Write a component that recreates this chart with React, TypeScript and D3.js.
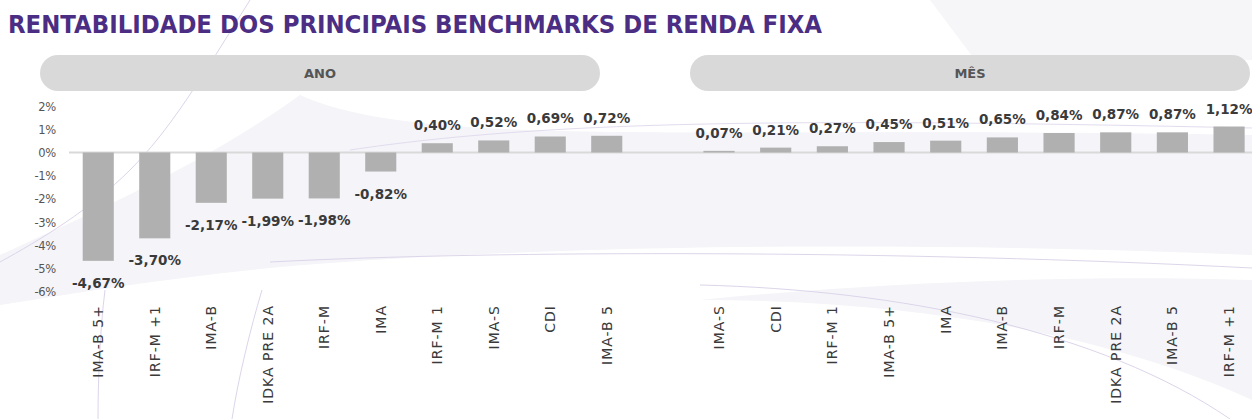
import React from "react";
import * as d3 from "d3";

const title = "RENTABILIDADE DOS PRINCIPAIS BENCHMARKS DE RENDA FIXA";
const leftTitle = "ANO";
const rightTitle = "MÊS";

const leftCats = ["IMA-B 5+", "IRF-M +1", "IMA-B", "IDKA PRE 2A", "IRF-M", "IMA", "IRF-M 1", "IMA-S", "CDI", "IMA-B 5"];
const leftVals = [-4.67, -3.7, -2.17, -1.99, -1.98, -0.82, 0.4, 0.52, 0.69, 0.72];

const rightCats = ["IMA-S", "CDI", "IRF-M 1", "IMA-B 5+", "IMA", "IMA-B", "IRF-M", "IDKA PRE 2A", "IMA-B 5", "IRF-M +1"];
const rightVals = [0.07, 0.21, 0.27, 0.45, 0.51, 0.65, 0.84, 0.87, 0.87, 1.12];

const yTicks = [2, 1, 0, -1, -2, -3, -4, -5, -6];

const W = 1252;
const H = 419;

const locale = d3.formatLocale({ decimal: ",", thousands: ".", grouping: [3], currency: ["R$", ""], minus: "-" });
const fmt = (v: number) => locale.format(".2f")(v) + "%";

const y = d3.scaleLinear().domain([-6, 2]).range([291.7, 106.1]);

const xLeft = d3.scaleBand<string>().domain(leftCats).range([70, 635]).paddingInner(0.45).paddingOuter(0.225);
const xRight = d3.scaleBand<string>().domain(rightCats).range([690.7, 1257.4]).paddingInner(0.45).paddingOuter(0.225);

const labelFont = "'DejaVu Sans', sans-serif";

function Panel({ cats, vals, x }: { cats: string[]; vals: number[]; x: d3.ScaleBand<string> }) {
  const bw = x.bandwidth();
  return (
    <g>
      {cats.map((c, i) => {
        const v = vals[i];
        const y0 = y(0);
        const y1 = y(v);
        const top = Math.min(y0, y1);
        const h = Math.abs(y1 - y0);
        const cx = (x(c) as number) + bw / 2;
        const ly = v < 0 ? y1 + 27 : y1 - 13;
        return (
          <g key={c}>
            <rect x={x(c)} y={top} width={bw} height={h} fill="#b0b0b0" />
            <text x={cx} y={ly} textAnchor="middle" fontFamily={labelFont} fontWeight="bold" fontSize={13.5} fill="#3a3a3a">
              {fmt(v)}
            </text>
            <text
              transform={`translate(${cx + 5},305) rotate(-90)`}
              textAnchor="end"
              fontFamily={labelFont}
              fontSize={14}
              letterSpacing={1}
              fill="#3a3a3a"
            >
              {c}
            </text>
          </g>
        );
      })}
    </g>
  );
}

export default function App() {
  return (
    <svg width={W} height={H} style={{ position: "absolute", left: 0, top: 0, display: "block" }}>
      <rect x={0} y={0} width={W} height={H} fill="#ffffff" />
      {/* decorative background */}
      <path d="M 300 95 C 420 150, 700 125, 1252 135 L 1252 255 C 900 240, 520 245, 270 268 C 170 278, 80 292, 0 305 L 0 255 C 110 205, 210 160, 300 95 Z" fill="#f4f4f9" />
      <path d="M 930 0 L 1252 0 L 1252 60 C 1150 55, 1050 62, 990 80 Z" fill="#f6f6f9" />
      <path d="M 700 300 C 900 300, 1100 330, 1252 400 L 1252 280 C 1100 275, 900 280, 700 300 Z" fill="#f5f5f9" />
      <path d="M 250 0 C 200 80, 170 130, 130 170 C 90 210, 40 240, 0 262" fill="none" stroke="#dcd5ea" strokeWidth={1} />
      <path d="M 105 290 C 100 330, 98 380, 98 419" fill="none" stroke="#dcd5ea" strokeWidth={1} />
      <path d="M 262 290 C 250 330, 238 380, 232 419" fill="none" stroke="#dcd5ea" strokeWidth={1} />
      <path d="M 270 262 C 500 250, 900 250, 1252 268" fill="none" stroke="#ddd6ea" strokeWidth={1} />
      <path d="M 350 150 C 550 120, 800 118, 1252 128" fill="none" stroke="#e2dcee" strokeWidth={1} />
      <path d="M 700 285 C 900 290, 1100 330, 1230 419" fill="none" stroke="#dcd5ea" strokeWidth={1} />

      {/* title */}
      <text x={8} y={33} fontFamily={labelFont} fontWeight="bold" fontSize={24} fill="#4b2e83" textLength={814} lengthAdjust="spacingAndGlyphs">
        {title}
      </text>

      {/* panel headers */}
      <rect x={40} y={55} width={560} height={36} rx={18} ry={18} fill="#d9d9d9" />
      <text x={320} y={78} textAnchor="middle" fontFamily={labelFont} fontWeight="bold" fontSize={13} fill="#555">
        {leftTitle}
      </text>
      <rect x={690} y={55} width={560} height={36} rx={18} ry={18} fill="#d9d9d9" />
      <text x={970} y={78} textAnchor="middle" fontFamily={labelFont} fontWeight="bold" fontSize={13} fill="#555">
        {rightTitle}
      </text>

      {/* y axis */}
      {yTicks.map((t) => (
        <text key={t} x={56} y={y(t) + 4.5} textAnchor="end" fontFamily={labelFont} fontSize={11.5} letterSpacing={-0.3} fill="#555">
          {`${t}%`}
        </text>
      ))}

      {/* zero line */}
      <line x1={69} x2={1252} y1={y(0)} y2={y(0)} stroke="#d9d9d9" strokeWidth={2} />

      <Panel cats={leftCats} vals={leftVals} x={xLeft} />
      <Panel cats={rightCats} vals={rightVals} x={xRight} />
    </svg>
  );
}
